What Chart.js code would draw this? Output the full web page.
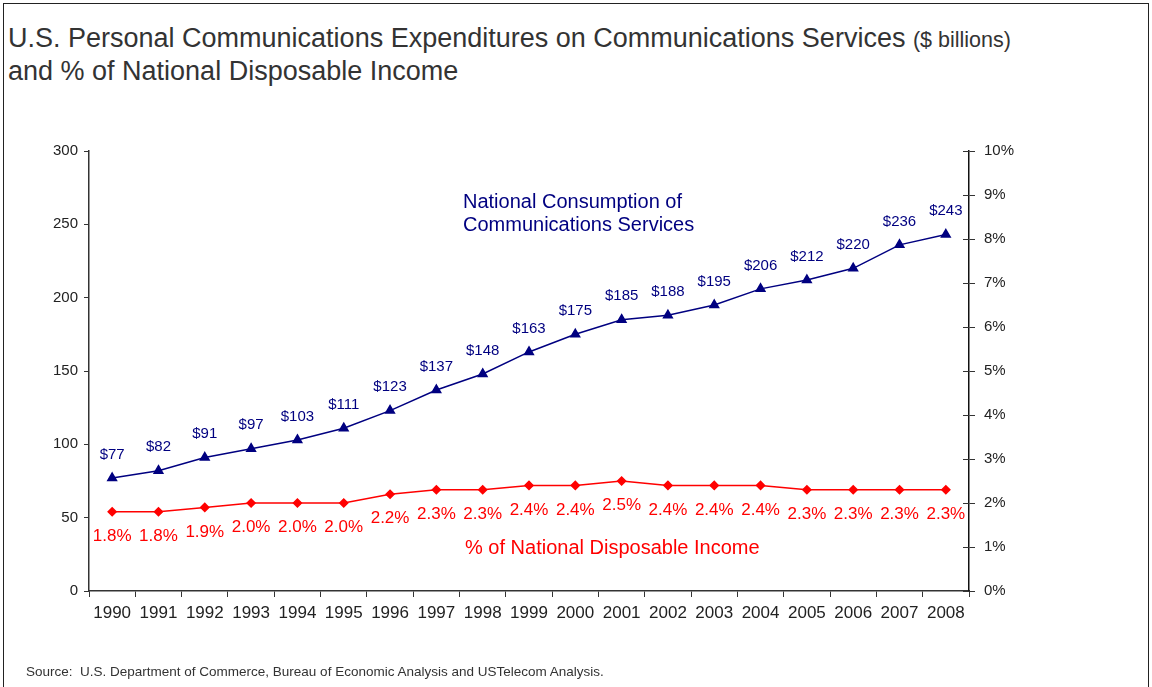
<!DOCTYPE html>
<html>
<head>
<meta charset="utf-8">
<script src="https://cdn.jsdelivr.net/npm/chart.js@4.4.1/dist/chart.umd.min.js"></script>
<style>
  body { margin: 0; background: #fff; font-family: "Liberation Sans", Arial, sans-serif; }
  #wrap { position: relative; width: 1152px; height: 687px; overflow: hidden; }
  #frame { position: absolute; left: 3px; top: 3px; width: 1144px; height: 700px; border: 1px solid #222; }
  #title { position: absolute; left: 8px; top: 23px; font-size: 27px; line-height: 31px; color: #333; }
  #title small { font-size: 21.5px; }
  #source { position: absolute; left: 26px; top: 664px; font-size: 13.5px; color: #333; }
  canvas { position: absolute; left: 0; top: 0; }
</style>
</head>
<body>
<div id="wrap">
  <div id="frame"></div>
  <div id="title">U.S. Personal Communications Expenditures on Communications Services <small>($ billions)</small><br>and % of National Disposable Income</div>
  <canvas id="myChart" width="1152" height="687"></canvas>
  <div id="source">Source:&nbsp; U.S. Department of Commerce, Bureau of Economic Analysis and USTelecom Analysis.</div>
</div>
<script>
const years = ['1990','1991','1992','1993','1994','1995','1996','1997','1998','1999',
  '2000','2001','2002','2003','2004','2005','2006','2007','2008']
const spending = [77, 82, 91, 97, 103, 111, 123, 137, 148, 163, 175, 185, 188, 195, 206, 212, 220, 236, 243]
const incomeShare = [1.8, 1.8, 1.9, 2.0, 2.0, 2.0, 2.2, 2.3, 2.3, 2.4, 2.4, 2.5, 2.4, 2.4, 2.4, 2.3, 2.3, 2.3, 2.3]

const navy = '#000080'
const red = '#ff0000'
const axisColor = '#333'

// value labels and in-chart captions
const labelPlugin = {
    id: 'labels',
    afterDatasetsDraw(chart) {
        const ctx = chart.ctx
        const area = chart.chartArea
        ctx.save()
        ctx.textAlign = 'center'

        ctx.fillStyle = navy
        ctx.font = '15px "Liberation Sans", Arial'
        ctx.textBaseline = 'bottom'
        chart.getDatasetMeta(0).data.forEach((pt, i) => {
            ctx.fillText('$' + spending[i], pt.x, pt.y - 16)
        })

        ctx.fillStyle = red
        ctx.font = '17px "Liberation Sans", Arial'
        ctx.textBaseline = 'top'
        chart.getDatasetMeta(1).data.forEach((pt, i) => {
            ctx.fillText(incomeShare[i].toFixed(1) + '%', pt.x, pt.y + 16)
        })

        ctx.textAlign = 'left'
        ctx.textBaseline = 'alphabetic'
        ctx.font = '20px "Liberation Sans", Arial'
        ctx.fillStyle = navy
        ctx.fillText('National Consumption of', area.left + 374, area.top + 57)
        ctx.fillText('Communications Services', area.left + 374, area.top + 80)
        ctx.fillStyle = red
        ctx.fillText('% of National Disposable Income', area.left + 376, area.top + 403)

        // inner half of the right axis ticks
        const y1 = chart.scales.y1
        ctx.strokeStyle = axisColor
        ctx.lineWidth = 1
        y1.ticks.forEach((t, i) => {
            const py = Math.round(y1.getPixelForTick(i)) + 0.5
            ctx.beginPath()
            ctx.moveTo(area.right - 6, py)
            ctx.lineTo(area.right, py)
            ctx.stroke()
        })
        ctx.restore()
    }
}

const data = {
    labels: years,
    datasets: [{
        label: 'National Consumption of Communications Services',
        data: spending,
        yAxisID: 'y',
        borderColor: navy,
        backgroundColor: navy,
        borderWidth: 1.5,
        pointStyle: 'triangle',
        pointRadius: 5,
        pointHoverRadius: 5,
    }, {
        label: '% of National Disposable Income',
        data: incomeShare,
        yAxisID: 'y1',
        borderColor: red,
        backgroundColor: red,
        borderWidth: 1.5,
        pointStyle: 'rectRot',
        pointRadius: 4,
        pointHoverRadius: 4,
    }]
}

const config = {
    type: 'line',
    data: data,
    options: {
        responsive: false,
        animation: false,
        layout: { padding: { top: 151, left: 0, right: 0, bottom: 0 } },
        plugins: { legend: { display: false }, tooltip: { enabled: false } },
        scales: {
            x: {
                offset: true,
                grid: { offset: true, drawOnChartArea: false, color: axisColor, tickLength: 6 },
                border: { color: axisColor, width: 1.5 },
                ticks: { color: '#222', font: { size: 17, family: '"Liberation Sans", Arial' }, padding: 6, maxRotation: 0 },
                afterFit(scale) { scale.height = 96 }
            },
            y: {
                position: 'left',
                min: 0, max: 300,
                ticks: { stepSize: 50, color: '#222', font: { size: 15, family: '"Liberation Sans", Arial' }, padding: 6 },
                grid: { drawOnChartArea: false, color: axisColor, tickLength: 5 },
                border: { color: axisColor, width: 1.5 },
                afterFit(scale) { scale.width = 89 }
            },
            y1: {
                position: 'right',
                min: 0, max: 10,
                ticks: { stepSize: 1, color: '#222', font: { size: 15, family: '"Liberation Sans", Arial' }, padding: 9,
                    callback: v => v + '%' },
                grid: { drawOnChartArea: false, color: axisColor, tickLength: 6 },
                border: { color: '#111', width: 1.5 },
                afterFit(scale) { scale.width = 183 }
            }
        }
    },
    plugins: [labelPlugin]
}

const myChart = new Chart(document.getElementById('myChart'), config)
</script>
</body>
</html>
